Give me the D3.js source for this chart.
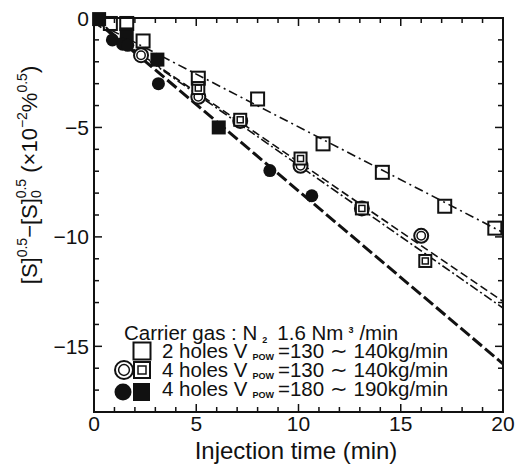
<!DOCTYPE html>
<html>
<head>
<meta charset="utf-8">
<script src="https://cdn.jsdelivr.net/npm/d3@7"></script>
<style>
  body { margin: 0; background: #fff; }
  svg text { font-family: "Liberation Sans", Arial, sans-serif; fill: #111; }
</style>
</head>
<body>
<svg id="chart" width="515" height="466"></svg>
<script>
// injection time (min) vs [S]^0.5 - [S]0^0.5
var xTicks = [0, 5, 10, 15, 20];
var yTicks = [0, -5, -10, -15];

// 2 holes, Vpow 130-140 (open squares)
var sq2 = [[0.8, -0.25], [1.6, -0.25], [2.4, -1.05], [5.1, -2.75], [8.0, -3.7],
           [11.2, -5.75], [14.1, -7.05], [17.15, -8.6], [19.6, -9.6]];
// 4 holes, Vpow 130-140 (double circles / double squares)
var circ4 = [[2.3, -1.7], [5.1, -3.6], [7.15, -4.7], [10.1, -6.75], [13.1, -8.7], [16.0, -9.95]];
var dsq4 = [[5.1, -3.2], [7.15, -4.65], [10.1, -6.42], [13.1, -8.7], [16.2, -11.1]];
// 4 holes, Vpow 180-190 (filled)
var fcirc = [[0.9, -1.0], [1.4, -1.2], [1.65, -1.25], [3.15, -3.0], [8.6, -6.97], [10.65, -8.12]];
var fsq = [[0.25, -0.05], [1.6, -0.75], [3.1, -1.9], [6.1, -5.0]];

// regression lines (end points)
var fitSq2 = [[0, -0.15], [20, -9.8]];
var fitCirc4 = [[0, -0.2], [20, -12.95]];
var fitDsq4 = [[0, -0.2], [20, -13.25]];
var fitFill = [[0, 0], [20, -15.8]];

var svg = d3.select("#chart"),
    pLeft = 94, pRight = 503, pTop = 18, pBottom = 412;

var x = d3.scaleLinear().domain([0, 20]).range([pLeft, pRight]);
var y = d3.scaleLinear().domain([-18, 0]).range([pBottom, pTop]);

var g = svg.append("g");

g.append("clipPath").attr("id", "clip")
  .append("rect").attr("x", pLeft).attr("y", pTop)
  .attr("width", pRight - pLeft).attr("height", pBottom - pTop);

// ticks, every unit, longer at multiples of 5
function tickLen(d) { return d % 5 === 0 ? 8 : 5; }
var xs = d3.range(1, 20), ys = d3.range(-17, 0);

g.append("g").selectAll("line").data(xs).enter().append("line")
  .attr("x1", x).attr("x2", x)
  .attr("y1", pBottom).attr("y2", function(d) { return pBottom - tickLen(d); })
  .attr("stroke", "#111").attr("stroke-width", 1.5);
g.append("g").selectAll("line").data(xs).enter().append("line")
  .attr("x1", x).attr("x2", x)
  .attr("y1", pTop).attr("y2", function(d) { return pTop + tickLen(d); })
  .attr("stroke", "#111").attr("stroke-width", 1.5);
g.append("g").selectAll("line").data(ys).enter().append("line")
  .attr("y1", y).attr("y2", y)
  .attr("x1", pLeft).attr("x2", function(d) { return pLeft + tickLen(d); })
  .attr("stroke", "#111").attr("stroke-width", 1.5);
g.append("g").selectAll("line").data(ys).enter().append("line")
  .attr("y1", y).attr("y2", y)
  .attr("x1", pRight).attr("x2", function(d) { return pRight - tickLen(d); })
  .attr("stroke", "#111").attr("stroke-width", 1.5);

g.append("rect")
  .attr("x", pLeft).attr("y", pTop)
  .attr("width", pRight - pLeft).attr("height", pBottom - pTop)
  .attr("fill", "none").attr("stroke", "#111").attr("stroke-width", 2);

// tick labels
g.append("g").selectAll("text").data(xTicks).enter().append("text")
  .attr("x", x).attr("y", 431)
  .attr("text-anchor", "middle")
  .style("font-size", "21px")
  .text(function(d) { return d; });

g.append("g").selectAll("text").data(yTicks).enter().append("text")
  .attr("x", 89).attr("y", function(d) { return y(d) + 7.5; })
  .attr("text-anchor", "end")
  .style("font-size", "21px")
  .text(function(d) { return d < 0 ? "\u2212" + (-d) : d; });

// axis titles
svg.append("text")
  .attr("x", 296).attr("y", 459)
  .attr("text-anchor", "middle")
  .style("font-size", "24px")
  .text("Injection time (min)");

var yl = svg.append("text")
  .attr("transform", "translate(37,175) rotate(-90)")
  .attr("text-anchor", "middle")
  .style("font-size", "22px");
yl.append("tspan").text("[S]");
yl.append("tspan").attr("dy", -10).style("font-size", "14px").text("0.5");
yl.append("tspan").attr("dy", 10).text("\u2212[S]");
yl.append("tspan").attr("dy", 4).style("font-size", "14px").text("0");
yl.append("tspan").attr("dx", -8).attr("dy", -15).style("font-size", "14px").text("0.5");
yl.append("tspan").attr("dy", 11).text(" (\u00d710");
yl.append("tspan").attr("dy", -10).style("font-size", "14px").text("\u22122");
yl.append("tspan").attr("dy", 10).text("%");
yl.append("tspan").attr("dy", -10).style("font-size", "14px").text("0.5");
yl.append("tspan").attr("dy", 10).text(")");

// fit lines
var line = d3.line()
  .x(function(d) { return x(d[0]); })
  .y(function(d) { return y(d[1]); });

var lines = g.append("g").attr("clip-path", "url(#clip)");
lines.append("path").datum(fitSq2).attr("d", line)
  .attr("fill", "none").attr("stroke", "#111").attr("stroke-width", 1.6)
  .attr("stroke-dasharray", "9,4,2,4");
lines.append("path").datum(fitCirc4).attr("d", line)
  .attr("fill", "none").attr("stroke", "#111").attr("stroke-width", 1.6)
  .attr("stroke-dasharray", "8,4");
lines.append("path").datum(fitDsq4).attr("d", line)
  .attr("fill", "none").attr("stroke", "#111").attr("stroke-width", 1.6)
  .attr("stroke-dasharray", "9,3,2,3");
lines.append("path").datum(fitFill).attr("d", line)
  .attr("fill", "none").attr("stroke", "#111").attr("stroke-width", 3)
  .attr("stroke-dasharray", "12,4");

// markers
function openSquare(sel, s) {
  sel.append("rect")
    .attr("x", -s / 2).attr("y", -s / 2).attr("width", s).attr("height", s)
    .attr("fill", "none").attr("stroke", "#111").attr("stroke-width", 2);
}
function doubleSquare(sel, s) {
  sel.append("rect")
    .attr("x", -s / 2).attr("y", -s / 2).attr("width", s).attr("height", s)
    .attr("fill", "#fff").attr("stroke", "#111").attr("stroke-width", 2);
  sel.append("rect")
    .attr("x", -s / 4).attr("y", -s / 4).attr("width", s / 2).attr("height", s / 2)
    .attr("fill", "none").attr("stroke", "#111").attr("stroke-width", 1.5);
}
function doubleCircle(sel, r) {
  sel.append("circle").attr("r", r)
    .attr("fill", "#fff").attr("stroke", "#111").attr("stroke-width", 2);
  sel.append("circle").attr("r", r * 0.6)
    .attr("fill", "none").attr("stroke", "#111").attr("stroke-width", 1.5);
}
function pos(d) { return "translate(" + x(d[0]) + "," + y(d[1]) + ")"; }

var pts = g.append("g");
pts.selectAll(".fsq").data(fsq).enter().append("rect")
  .attr("class", "fsq")
  .attr("x", function(d) { return x(d[0]) - 7; })
  .attr("y", function(d) { return y(d[1]) - 7; })
  .attr("width", 14).attr("height", 14).attr("fill", "#111");
pts.selectAll(".fcirc").data(fcirc).enter().append("circle")
  .attr("class", "fcirc")
  .attr("cx", function(d) { return x(d[0]); })
  .attr("cy", function(d) { return y(d[1]); })
  .attr("r", 6.5).attr("fill", "#111");
pts.selectAll(".circ4").data(circ4).enter().append("g")
  .attr("class", "circ4").attr("transform", pos)
  .each(function() { doubleCircle(d3.select(this), 7); });
pts.selectAll(".dsq4").data(dsq4).enter().append("g")
  .attr("class", "dsq4").attr("transform", pos)
  .each(function() { doubleSquare(d3.select(this), 12); });
pts.selectAll(".sq2").data(sq2).enter().append("g")
  .attr("class", "sq2").attr("transform", pos)
  .each(function() { openSquare(d3.select(this), 13); });

// legend
var lg = svg.append("g").style("font-size", "20.5px");
var t0 = lg.append("text").attr("x", 124).attr("y", 340);
t0.append("tspan").text("Carrier gas : N");
t0.append("tspan").attr("dx", 5).attr("dy", 3).style("font-size", "9px").style("font-weight", "bold").text("2");
t0.append("tspan").attr("dx", 10).attr("dy", -3).text("1.6 Nm");
t0.append("tspan").attr("dx", 5).attr("dy", -7).style("font-size", "9px").style("font-weight", "bold").text("3");
t0.append("tspan").attr("dx", 6).attr("dy", 7).text("/min");

var legRows = [
  { n: "2", lo: 130, hi: 140, yb: 358 },
  { n: "4", lo: 130, hi: 140, yb: 377 },
  { n: "4", lo: 180, hi: 190, yb: 396 }
];
legRows.forEach(function(r) {
  var t = lg.append("text").attr("x", 162).attr("y", r.yb);
  t.append("tspan").text(r.n + " holes V");
  t.append("tspan").attr("dx", 5).attr("dy", 2).style("font-size", "9px").style("font-weight", "bold").text("POW");
  t.append("tspan").attr("dx", 4).attr("dy", -2).text("=" + r.lo + " \u223c " + r.hi + "kg/min");
});

var s1 = lg.append("g").attr("transform", "translate(142,351)");
s1.append("rect").attr("x", -8.5).attr("y", -8.5).attr("width", 17).attr("height", 17)
  .attr("fill", "none").attr("stroke", "#111").attr("stroke-width", 2);
var s2 = lg.append("g").attr("transform", "translate(124,370)");
doubleCircle(s2, 9);
var s3 = lg.append("g").attr("transform", "translate(142,370)");
doubleSquare(s3, 16);
lg.append("circle").attr("cx", 123).attr("cy", 392).attr("r", 8.5).attr("fill", "#111");
lg.append("rect").attr("x", 133).attr("y", 383).attr("width", 17).attr("height", 18).attr("fill", "#111");
</script>
</body>
</html>
